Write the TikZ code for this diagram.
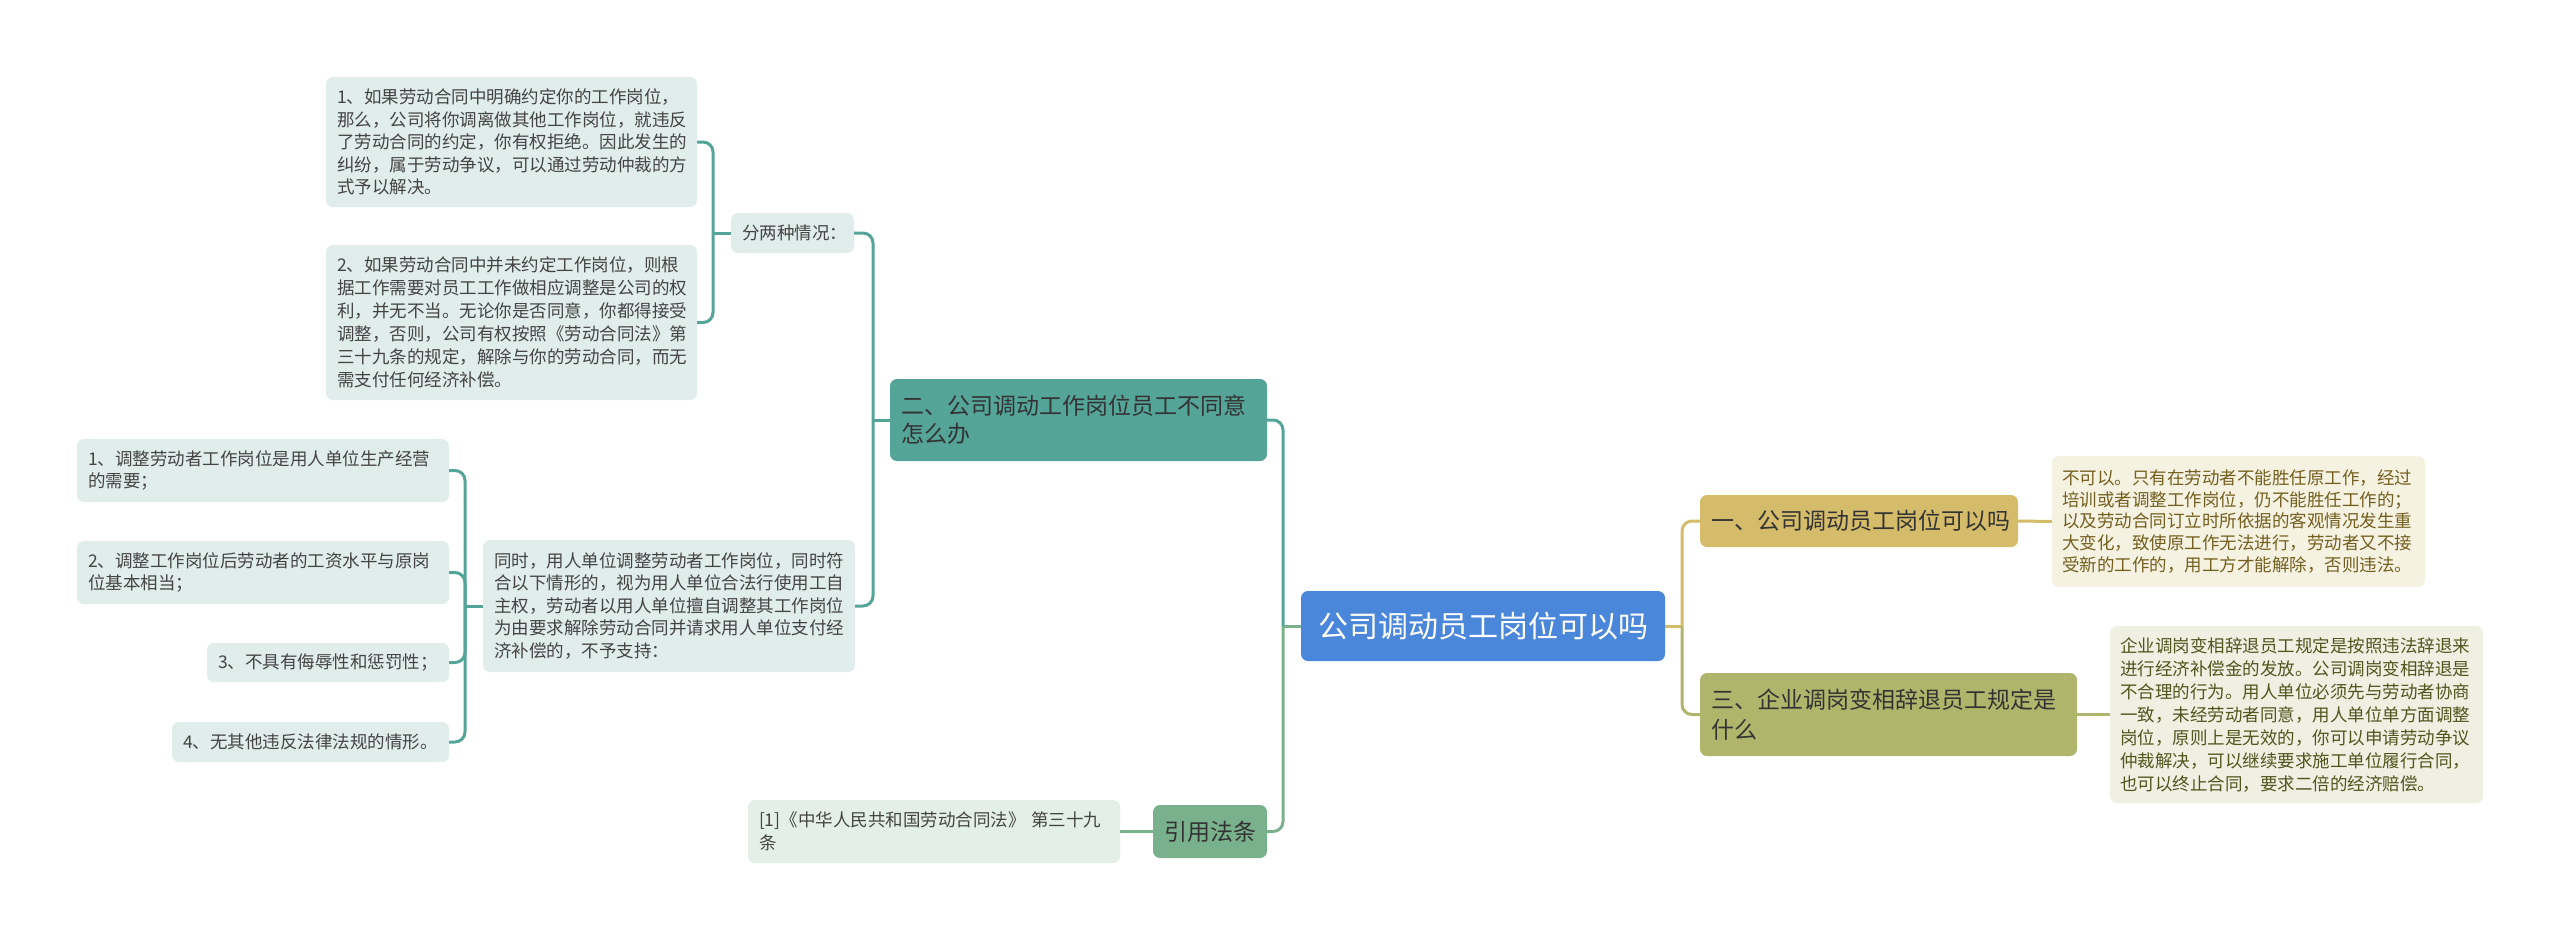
\documentclass[tikz,border=0pt]{standalone}
\usepackage{fontspec}
\setmainfont{Noto Sans CJK SC}
\definecolor{rootc}{HTML}{4A86DA}
\definecolor{goldc}{HTML}{D5BC6A}
\definecolor{olivec}{HTML}{AFB66C}
\definecolor{tealc}{HTML}{55A498}
\definecolor{greenc}{HTML}{78B18B}
\definecolor{leafc}{HTML}{E0EDEA}
\definecolor{citec}{HTML}{E3EFE7}
\definecolor{goldleaf}{HTML}{F6F2E2}
\definecolor{oliveleaf}{HTML}{EFF0E1}
\definecolor{leaftxt}{HTML}{444444}
\definecolor{maintxt}{HTML}{333333}
\definecolor{goldtxt}{HTML}{735F1F}
\definecolor{olivetxt}{HTML}{50551F}
\begin{document}
\begin{tikzpicture}[x=1pt,y=-1pt,
  box/.style={rounded corners=7pt, inner ysep=0pt, align=left},
  leaf/.style={box, fill=leafc, text=leaftxt, font=\fontsize{17.5}{22.5}\selectfont, inner xsep=11pt},
  mainnode/.style={box, text=maintxt, font=\fontsize{23}{28}\selectfont, inner xsep=11pt},
  conn/.style={line width=3pt, rounded corners=10pt}
]
\useasboundingbox (0,0) rectangle (2560,940);

% root
\node[box, fill=rootc, text=white, font=\fontsize{30}{36}\selectfont, align=center, minimum width=364pt, minimum height=70pt, inner xsep=0pt] (root) at (1483,626) {公司调动员工岗位可以吗};

% right side
\node[mainnode, fill=goldc, text width=296pt, minimum height=52pt] (n1) at (1859,521) {一、公司调动员工岗位可以吗};
\node[mainnode, fill=olivec, text width=355pt, minimum height=83pt, font=\fontsize{23}{30}\selectfont] (n3) at (1888.5,714.5) {三、企业调岗变相辞退员工规定是\\什么};
\node[box, fill=goldleaf, text=goldtxt, font=\fontsize{17.5}{21.7}\selectfont, inner xsep=10pt, text width=353pt, minimum height=131pt] (d1) at (2238.5,521.5) {不可以。只有在劳动者不能胜任原工作，经过\\培训或者调整工作岗位，仍不能胜任工作的；\\以及劳动合同订立时所依据的客观情况发生重\\大变化，致使原工作无法进行，劳动者又不接\\受新的工作的，用工方才能解除，否则违法。};
\node[box, fill=oliveleaf, text=olivetxt, font=\fontsize{17.5}{23}\selectfont, inner xsep=10pt, text width=353pt, minimum height=177pt] (d3) at (2296.5,714.5) {企业调岗变相辞退员工规定是按照违法辞退来\\进行经济补偿金的发放。公司调岗变相辞退是\\不合理的行为。用人单位必须先与劳动者协商\\一致，未经劳动者同意，用人单位单方面调整\\岗位，原则上是无效的，你可以申请劳动争议\\仲裁解决，可以继续要求施工单位履行合同，\\也可以终止合同，要求二倍的经济赔偿。};

% left side
\node[mainnode, fill=tealc, text width=355pt, minimum height=82pt] (n2) at (1078.5,420) {二、公司调动工作岗位员工不同意\\怎么办};
\node[box, fill=greenc, text=maintxt, font=\fontsize{23}{28}\selectfont, align=center, minimum width=114pt, minimum height=53pt, inner xsep=0pt] (ref) at (1210,831.5) {引用法条};
\node[leaf, fill=citec, text width=350pt, minimum height=63pt] (cite) at (934,831.5) {[1]《中华人民共和国劳动合同法》 第三十九\\条};

\node[leaf, text width=101pt, minimum height=40pt] (fen) at (792.5,233) {分两种情况：};
\node[leaf, text width=349pt, minimum height=130pt] (b1) at (511.5,142) {1、如果劳动合同中明确约定你的工作岗位，\\那么，公司将你调离做其他工作岗位，就违反\\了劳动合同的约定，你有权拒绝。因此发生的\\纠纷，属于劳动争议，可以通过劳动仲裁的方\\式予以解决。};
\node[leaf, font=\fontsize{17.5}{23}\selectfont, text width=349pt, minimum height=155pt] (b2) at (511.5,322.5) {2、如果劳动合同中并未约定工作岗位，则根\\据工作需要对员工工作做相应调整是公司的权\\利，并无不当。无论你是否同意，你都得接受\\调整，否则，公司有权按照《劳动合同法》第\\三十九条的规定，解除与你的劳动合同，而无\\需支付任何经济补偿。};

\node[leaf, text width=350pt, minimum height=132pt] (tong) at (669,606) {同时，用人单位调整劳动者工作岗位，同时符\\合以下情形的，视为用人单位合法行使用工自\\主权，劳动者以用人单位擅自调整其工作岗位\\为由要求解除劳动合同并请求用人单位支付经\\济补偿的，不予支持：};
\node[leaf, text width=350pt, minimum height=63pt] (c1) at (263,470.5) {1、调整劳动者工作岗位是用人单位生产经营\\的需要；};
\node[leaf, text width=350pt, minimum height=63pt] (c2) at (263,572.5) {2、调整工作岗位后劳动者的工资水平与原岗\\位基本相当；};
\node[leaf, text width=220pt, minimum height=39pt] (c3) at (328,662.5) {3、不具有侮辱性和惩罚性；};
\node[leaf, text width=255pt, minimum height=40pt] (c4) at (310.5,742) {4、无其他违反法律法规的情形。};

% junction coordinates
\coordinate (jr) at (1682,626);
\coordinate (jl) at (1283,626);
\coordinate (j2) at (873,420);
\coordinate (j3) at (713,233);
\coordinate (j4) at (465,606);

% connectors right
\draw[conn, draw=goldc] (root.east) -- (jr);
\draw[conn, draw=goldc] (jr) |- (n1.west);
\draw[conn, draw=olivec] (jr) |- (n3.west);
\draw[conn, draw=goldc] (n1.east) -- (d1.west);
\draw[conn, draw=olivec] (n3.east) -- (d3.west);

% connectors left
\draw[conn, draw=greenc] (root.west) -- (jl);
\draw[conn, draw=tealc] (jl) |- (n2.east);
\draw[conn, draw=greenc] (jl) |- (ref.east);
\draw[conn, draw=greenc] (ref.west) -- (cite.east);

\draw[conn, draw=tealc] (n2.west) -- (j2);
\draw[conn, draw=tealc] (j2) |- (fen.east);
\draw[conn, draw=tealc] (j2) |- (tong.east);

\draw[conn, draw=tealc] (fen.west) -- (j3);
\draw[conn, draw=tealc] (j3) |- (b1.east);
\draw[conn, draw=tealc] (j3) |- (b2.east);

\draw[conn, draw=tealc] (tong.west) -- (j4);
\draw[conn, draw=tealc] (j4) |- (c1.east);
\draw[conn, draw=tealc] (j4) |- (c2.east);
\draw[conn, draw=tealc] (j4) |- (c3.east);
\draw[conn, draw=tealc] (j4) |- (c4.east);
\end{tikzpicture}
\end{document}
